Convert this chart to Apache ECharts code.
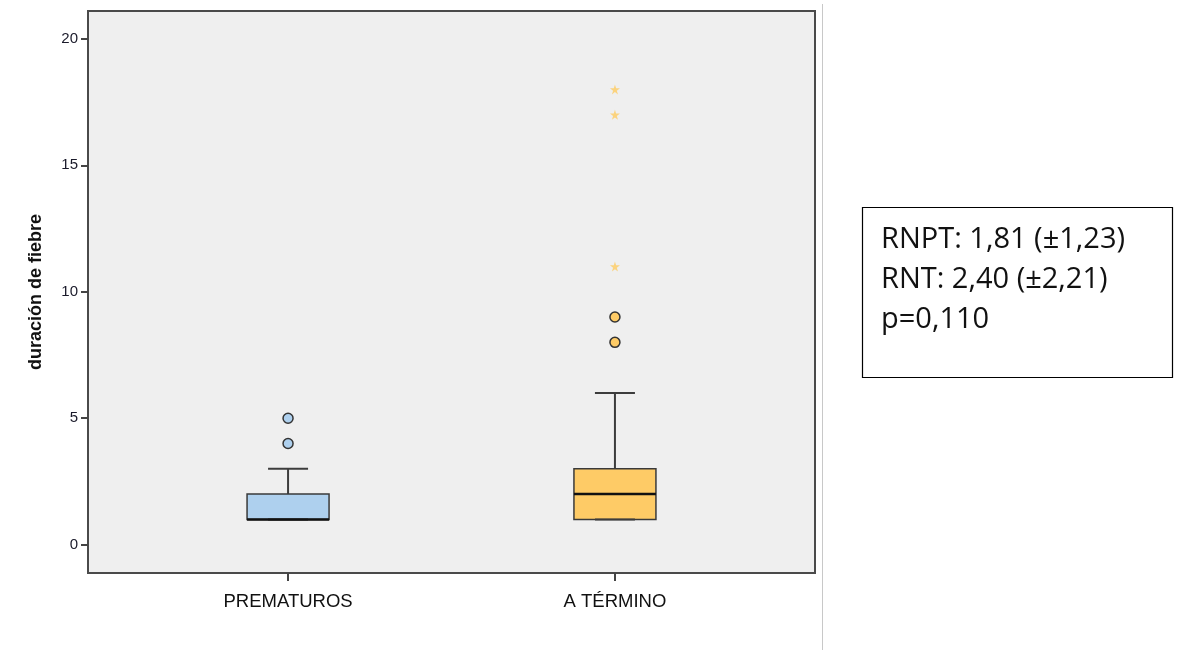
<!DOCTYPE html>
<html>
<head>
<meta charset="utf-8">
<title>Duración de fiebre</title>
<script src="https://cdn.jsdelivr.net/npm/echarts@6/dist/echarts.min.js"></script>
<style>
  html, body { margin: 0; padding: 0; background: #ffffff; }
  #chart { width: 1180px; height: 650px; }
</style>
</head>
<body>
<div id="chart"></div>
<script>
// Groups on the horizontal axis
const categories = ['PREMATUROS', 'A TÉRMINO'];

// Box statistics per group: [lower whisker, Q1, median, Q3, upper whisker]
const prematurosBox = [1, 1, 1, 2, 3];
const terminoBox = [1, 1, 2, 3, 6];

// Outliers (circles) and extreme values (stars)
const prematurosOutliers = [4, 5];
const terminoOutliers = [8, 9];
const terminoExtremes = [11, 17, 18];

// Tick labels on the value axis
const yTicks = [0, 5, 10, 15, 20];

// Summary shown in the side box
const summaryLines = ['RNPT: 1,81 (±1,23)', 'RNT: 2,40 (±2,21)', 'p=0,110'];

const fills = ['#aed0ee', '#fecb66'];
const starColor = '#fbd37e';
const starPath = 'path://M50,0 L61,35 L98,35 L68,57 L79,91 L50,70 L21,91 L32,57 L2,35 L39,35 Z';

const boxData = [prematurosBox, terminoBox].map((s, i) => [i].concat(s));
const outlierData = [
  prematurosOutliers.map(v => [0, v]),
  terminoOutliers.map(v => [1, v])
];
const extremeData = terminoExtremes.map(v => [1, v]);

function renderBox(params, api) {
  const x = api.value(0);
  const lo = api.coord([x, api.value(1)]);
  const q1 = api.coord([x, api.value(2)]);
  const med = api.coord([x, api.value(3)]);
  const q3 = api.coord([x, api.value(4)]);
  const hi = api.coord([x, api.value(5)]);
  const cx = lo[0];
  const half = 41;
  const cap = 20;
  const wStyle = { stroke: '#3c3c3c', lineWidth: 2 };
  return {
    type: 'group',
    children: [
      { type: 'line', shape: { x1: cx, y1: q3[1], x2: cx, y2: hi[1] }, style: wStyle },
      { type: 'line', shape: { x1: cx, y1: q1[1], x2: cx, y2: lo[1] }, style: wStyle },
      { type: 'line', shape: { x1: cx - cap, y1: hi[1], x2: cx + cap, y2: hi[1] }, style: wStyle },
      { type: 'rect', shape: { x: cx - half, y: q3[1], width: half * 2, height: q1[1] - q3[1] },
        style: { fill: fills[params.dataIndex], stroke: '#3a3a3a', lineWidth: 1.5 } },
      { type: 'line', shape: { x1: cx - cap, y1: lo[1], x2: cx + cap, y2: lo[1] }, style: wStyle },
      { type: 'line', shape: { x1: cx - half, y1: med[1], x2: cx + half, y2: med[1] },
        style: { stroke: '#111111', lineWidth: 2.5 } }
    ]
  };
}

const chart = echarts.init(document.getElementById('chart'), null, { renderer: 'canvas' });

chart.setOption({
  animation: false,
  backgroundColor: '#ffffff',
  grid: {
    left: 88, right: 365, top: 11, bottom: 77,
    show: true, backgroundColor: '#efefef', borderColor: '#4a4a4a', borderWidth: 2
  },
  xAxis: {
    type: 'value',
    min: -0.612, max: 1.612,
    splitLine: { show: false },
    axisLine: { show: false, onZero: false },
    axisTick: { show: true, customValues: [0, 1], length: 8, lineStyle: { color: '#444', width: 2 } },
    axisLabel: {
      customValues: [0, 1],
      formatter: v => categories[Math.round(v)] || '',
      color: '#111', fontFamily: 'Liberation Sans', fontSize: 18.5, margin: 19
    }
  },
  yAxis: {
    type: 'value',
    min: -1.12, max: 21.1,
    name: 'duración de fiebre',
    nameLocation: 'middle',
    nameRotate: 90,
    nameGap: 43,
    nameTextStyle: { color: '#111', fontFamily: 'Liberation Sans', fontWeight: 'bold', fontSize: 18 },
    splitLine: { show: false },
    axisLine: { show: false, onZero: false },
    axisTick: { show: true, customValues: yTicks, length: 7, lineStyle: { color: '#444', width: 2 } },
    axisLabel: {
      customValues: yTicks,
      color: '#1a1a2a', fontFamily: 'Liberation Sans', fontSize: 15, margin: 10
    }
  },
  series: [
    {
      type: 'custom',
      renderItem: renderBox,
      data: boxData,
      z: 2
    },
    {
      type: 'scatter',
      data: outlierData[0],
      symbol: 'circle', symbolSize: 10,
      itemStyle: { color: fills[0], borderColor: '#333', borderWidth: 1.5, opacity: 1 },
      z: 3
    },
    {
      type: 'scatter',
      data: outlierData[1],
      symbol: 'circle', symbolSize: 10,
      itemStyle: { color: fills[1], borderColor: '#333', borderWidth: 1.5, opacity: 1 },
      z: 3
    },
    {
      type: 'scatter',
      data: extremeData,
      symbol: starPath, symbolSize: 10,
      itemStyle: { color: starColor, opacity: 1 },
      z: 3
    }
  ],
  graphic: [
    { type: 'line', shape: { x1: 822.5, y1: 4, x2: 822.5, y2: 650 }, style: { stroke: '#c8c8c8', lineWidth: 1 } },
    { type: 'rect', shape: { x: 862.5, y: 207.5, width: 310, height: 170 },
      style: { fill: '#ffffff', stroke: '#000000', lineWidth: 1.2 } },
    { type: 'text', left: 881, top: 225, style: { text: summaryLines[0], fill: '#111', font: '29px "Open Sans"' } },
    { type: 'text', left: 881, top: 265, style: { text: summaryLines[1], fill: '#111', font: '29px "Open Sans"' } },
    { type: 'text', left: 881, top: 305, style: { text: summaryLines[2], fill: '#111', font: '29px "Open Sans"' } }
  ]
});
</script>
</body>
</html>
